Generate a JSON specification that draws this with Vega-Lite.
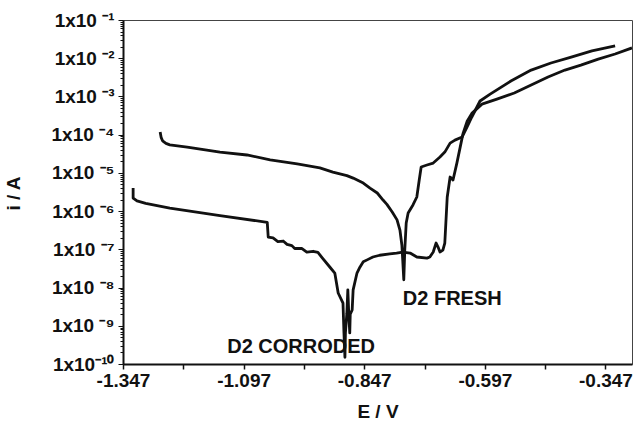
{
  "$schema": "https://vega.github.io/schema/vega-lite/v6.json",
  "autosize": {"type": "none"},
  "padding": {"left": 123, "top": 20, "right": 3, "bottom": 68},
  "width": 509,
  "height": 344,
  "background": "white",
  "config": {
    "view": {"stroke": "#444", "strokeWidth": 1},
    "font": "Liberation Sans"
  },
  "datasets": {
    "curves": [
      {"s": "fresh", "i": 1, "E": -1.270, "I": 1.17e-4},
      {"s": "fresh", "i": 2, "E": -1.268, "I": 8.5e-5},
      {"s": "fresh", "i": 3, "E": -1.265, "I": 6.9e-5},
      {"s": "fresh", "i": 4, "E": -1.258, "I": 5.9e-5},
      {"s": "fresh", "i": 5, "E": -1.250, "I": 5.4e-5},
      {"s": "fresh", "i": 6, "E": -1.214, "I": 4.75e-5},
      {"s": "fresh", "i": 7, "E": -1.146, "I": 3.5e-5},
      {"s": "fresh", "i": 8, "E": -1.090, "I": 2.94e-5},
      {"s": "fresh", "i": 9, "E": -1.042, "I": 2.2e-5},
      {"s": "fresh", "i": 10, "E": -0.986, "I": 1.71e-5},
      {"s": "fresh", "i": 11, "E": -0.939, "I": 1.35e-5},
      {"s": "fresh", "i": 12, "E": -0.912, "I": 1.05e-5},
      {"s": "fresh", "i": 13, "E": -0.883, "I": 8.5e-6},
      {"s": "fresh", "i": 14, "E": -0.870, "I": 7.3e-6},
      {"s": "fresh", "i": 15, "E": -0.849, "I": 5.4e-6},
      {"s": "fresh", "i": 16, "E": -0.835, "I": 4.0e-6},
      {"s": "fresh", "i": 17, "E": -0.820, "I": 2.98e-6},
      {"s": "fresh", "i": 18, "E": -0.808, "I": 1.95e-6},
      {"s": "fresh", "i": 19, "E": -0.800, "I": 1.5e-6},
      {"s": "fresh", "i": 20, "E": -0.789, "I": 9.5e-7},
      {"s": "fresh", "i": 21, "E": -0.779, "I": 5.9e-7},
      {"s": "fresh", "i": 22, "E": -0.773, "I": 3.2e-7},
      {"s": "fresh", "i": 23, "E": -0.769, "I": 1.3e-7},
      {"s": "fresh", "i": 24, "E": -0.767, "I": 4.7e-8},
      {"s": "fresh", "i": 25, "E": -0.765, "I": 1.6e-8},
      {"s": "fresh", "i": 26, "E": -0.763, "I": 9.5e-8},
      {"s": "fresh", "i": 27, "E": -0.760, "I": 4.9e-7},
      {"s": "fresh", "i": 28, "E": -0.756, "I": 8.9e-7},
      {"s": "fresh", "i": 29, "E": -0.746, "I": 1.45e-6},
      {"s": "fresh", "i": 30, "E": -0.738, "I": 2.34e-6},
      {"s": "fresh", "i": 31, "E": -0.733, "I": 6.5e-6},
      {"s": "fresh", "i": 32, "E": -0.729, "I": 1.43e-5},
      {"s": "fresh", "i": 33, "E": -0.717, "I": 1.61e-5},
      {"s": "fresh", "i": 34, "E": -0.704, "I": 1.81e-5},
      {"s": "fresh", "i": 35, "E": -0.690, "I": 2.6e-5},
      {"s": "fresh", "i": 36, "E": -0.680, "I": 3.5e-5},
      {"s": "fresh", "i": 37, "E": -0.669, "I": 6.0e-5},
      {"s": "fresh", "i": 38, "E": -0.659, "I": 7.2e-5},
      {"s": "fresh", "i": 39, "E": -0.644, "I": 8.7e-5},
      {"s": "fresh", "i": 40, "E": -0.634, "I": 1.58e-4},
      {"s": "fresh", "i": 41, "E": -0.624, "I": 2.9e-4},
      {"s": "fresh", "i": 42, "E": -0.607, "I": 7.6e-4},
      {"s": "fresh", "i": 43, "E": -0.586, "I": 1.15e-3},
      {"s": "fresh", "i": 44, "E": -0.543, "I": 2.54e-3},
      {"s": "fresh", "i": 45, "E": -0.501, "I": 4.9e-3},
      {"s": "fresh", "i": 46, "E": -0.460, "I": 7.5e-3},
      {"s": "fresh", "i": 47, "E": -0.418, "I": 1.07e-2},
      {"s": "fresh", "i": 48, "E": -0.375, "I": 1.55e-2},
      {"s": "fresh", "i": 49, "E": -0.327, "I": 2.1e-2},
      {"s": "corroded", "i": 1, "E": -1.326, "I": 4.0e-6},
      {"s": "corroded", "i": 2, "E": -1.326, "I": 2.2e-6},
      {"s": "corroded", "i": 3, "E": -1.318, "I": 1.85e-6},
      {"s": "corroded", "i": 4, "E": -1.300, "I": 1.6e-6},
      {"s": "corroded", "i": 5, "E": -1.250, "I": 1.2e-6},
      {"s": "corroded", "i": 6, "E": -1.146, "I": 7.6e-7},
      {"s": "corroded", "i": 7, "E": -1.048, "I": 5.1e-7},
      {"s": "corroded", "i": 8, "E": -1.046, "I": 2.1e-7},
      {"s": "corroded", "i": 9, "E": -1.036, "I": 2.0e-7},
      {"s": "corroded", "i": 10, "E": -1.026, "I": 1.6e-7},
      {"s": "corroded", "i": 11, "E": -1.015, "I": 1.65e-7},
      {"s": "corroded", "i": 12, "E": -1.007, "I": 1.35e-7},
      {"s": "corroded", "i": 13, "E": -0.997, "I": 1.25e-7},
      {"s": "corroded", "i": 14, "E": -0.991, "I": 1.05e-7},
      {"s": "corroded", "i": 15, "E": -0.976, "I": 1.05e-7},
      {"s": "corroded", "i": 16, "E": -0.966, "I": 8.5e-8},
      {"s": "corroded", "i": 17, "E": -0.953, "I": 8.9e-8},
      {"s": "corroded", "i": 18, "E": -0.943, "I": 8.3e-8},
      {"s": "corroded", "i": 19, "E": -0.934, "I": 6.0e-8},
      {"s": "corroded", "i": 20, "E": -0.918, "I": 3.4e-8},
      {"s": "corroded", "i": 21, "E": -0.908, "I": 2.4e-8},
      {"s": "corroded", "i": 22, "E": -0.901, "I": 7.2e-9},
      {"s": "corroded", "i": 23, "E": -0.891, "I": 3.9e-9},
      {"s": "corroded", "i": 24, "E": -0.889, "I": 6.5e-10},
      {"s": "corroded", "i": 25, "E": -0.887, "I": 1.5e-10},
      {"s": "corroded", "i": 26, "E": -0.886, "I": 6.5e-10},
      {"s": "corroded", "i": 27, "E": -0.883, "I": 2.1e-9},
      {"s": "corroded", "i": 28, "E": -0.881, "I": 8.7e-9},
      {"s": "corroded", "i": 29, "E": -0.879, "I": 2.0e-9},
      {"s": "corroded", "i": 30, "E": -0.877, "I": 6.5e-10},
      {"s": "corroded", "i": 31, "E": -0.876, "I": 2.0e-9},
      {"s": "corroded", "i": 32, "E": -0.872, "I": 2.6e-9},
      {"s": "corroded", "i": 33, "E": -0.870, "I": 8.7e-9},
      {"s": "corroded", "i": 34, "E": -0.862, "I": 2.4e-8},
      {"s": "corroded", "i": 35, "E": -0.856, "I": 3.4e-8},
      {"s": "corroded", "i": 36, "E": -0.849, "I": 4.7e-8},
      {"s": "corroded", "i": 37, "E": -0.841, "I": 5.3e-8},
      {"s": "corroded", "i": 38, "E": -0.829, "I": 6.3e-8},
      {"s": "corroded", "i": 39, "E": -0.815, "I": 7.0e-8},
      {"s": "corroded", "i": 40, "E": -0.794, "I": 7.6e-8},
      {"s": "corroded", "i": 41, "E": -0.780, "I": 8.0e-8},
      {"s": "corroded", "i": 42, "E": -0.767, "I": 8.5e-8},
      {"s": "corroded", "i": 43, "E": -0.752, "I": 8.0e-8},
      {"s": "corroded", "i": 44, "E": -0.738, "I": 6.3e-8},
      {"s": "corroded", "i": 45, "E": -0.717, "I": 5.9e-8},
      {"s": "corroded", "i": 46, "E": -0.711, "I": 6.3e-8},
      {"s": "corroded", "i": 47, "E": -0.704, "I": 8.5e-8},
      {"s": "corroded", "i": 48, "E": -0.698, "I": 1.46e-7},
      {"s": "corroded", "i": 49, "E": -0.694, "I": 1.15e-7},
      {"s": "corroded", "i": 50, "E": -0.690, "I": 8.5e-8},
      {"s": "corroded", "i": 51, "E": -0.684, "I": 9.5e-8},
      {"s": "corroded", "i": 52, "E": -0.680, "I": 1.46e-7},
      {"s": "corroded", "i": 53, "E": -0.675, "I": 2.3e-6},
      {"s": "corroded", "i": 54, "E": -0.669, "I": 7.8e-6},
      {"s": "corroded", "i": 55, "E": -0.663, "I": 6.5e-6},
      {"s": "corroded", "i": 56, "E": -0.655, "I": 1.8e-5},
      {"s": "corroded", "i": 57, "E": -0.648, "I": 4.8e-5},
      {"s": "corroded", "i": 58, "E": -0.642, "I": 1.1e-4},
      {"s": "corroded", "i": 59, "E": -0.634, "I": 2.2e-4},
      {"s": "corroded", "i": 60, "E": -0.624, "I": 3.6e-4},
      {"s": "corroded", "i": 61, "E": -0.603, "I": 6.3e-4},
      {"s": "corroded", "i": 62, "E": -0.572, "I": 8.5e-4},
      {"s": "corroded", "i": 63, "E": -0.536, "I": 1.23e-3},
      {"s": "corroded", "i": 64, "E": -0.501, "I": 2.0e-3},
      {"s": "corroded", "i": 65, "E": -0.466, "I": 3.24e-3},
      {"s": "corroded", "i": 66, "E": -0.431, "I": 4.9e-3},
      {"s": "corroded", "i": 67, "E": -0.398, "I": 6.6e-3},
      {"s": "corroded", "i": 68, "E": -0.362, "I": 9.5e-3},
      {"s": "corroded", "i": 69, "E": -0.327, "I": 1.29e-2},
      {"s": "corroded", "i": 70, "E": -0.292, "I": 1.86e-2}
    ],
    "labels": [
      {"t": "D2 FRESH", "E": -0.767, "I": 5.0e-9},
      {"t": "D2 CORRODED", "E": -1.131, "I": 2.8e-10}
    ]
  },
  "layer": [
    {
      "data": {"name": "curves"},
      "mark": {"type": "line", "color": "#111", "strokeWidth": 2.8, "strokeJoin": "round", "clip": true},
      "encoding": {
        "x": {
          "field": "E", "type": "quantitative",
          "scale": {"domain": [-1.347, -0.292], "nice": false, "zero": false},
          "axis": {
            "title": "E / V",
            "values": [-1.347, -1.222, -1.097, -0.972, -0.847, -0.722, -0.597, -0.472, -0.347],
            "labelExpr": "(round((datum.value + 1.347) * 8) % 2 == 0) ? toString(datum.value) : ''",
            "grid": false,
            "domainColor": "#111", "domainWidth": 2,
            "tickColor": "#111", "tickWidth": 1.5, "tickSize": 5,
            "labelFont": "Liberation Sans", "labelFontSize": 19, "labelFontWeight": "bold", "labelColor": "#111",
            "labelPadding": 2, "labelFlush": false, "labelOverlap": false,
            "titleFont": "Liberation Sans", "titleFontSize": 19, "titleFontWeight": "bold", "titleColor": "#111",
            "titleY": 47, "titleBaseline": "middle"
          }
        },
        "y": {
          "field": "I", "type": "quantitative",
          "scale": {"type": "log", "domain": [1e-10, 1e-1], "nice": false},
          "axis": {
            "title": "i / A",
            "values": [1e-10,2e-10,3e-10,4e-10,5e-10,6e-10,7e-10,8e-10,9e-10,
                       1e-9,2e-9,3e-9,4e-9,5e-9,6e-9,7e-9,8e-9,9e-9,
                       1e-8,2e-8,3e-8,4e-8,5e-8,6e-8,7e-8,8e-8,9e-8,
                       1e-7,2e-7,3e-7,4e-7,5e-7,6e-7,7e-7,8e-7,9e-7,
                       1e-6,2e-6,3e-6,4e-6,5e-6,6e-6,7e-6,8e-6,9e-6,
                       1e-5,2e-5,3e-5,4e-5,5e-5,6e-5,7e-5,8e-5,9e-5,
                       1e-4,2e-4,3e-4,4e-4,5e-4,6e-4,7e-4,8e-4,9e-4,
                       1e-3,2e-3,3e-3,4e-3,5e-3,6e-3,7e-3,8e-3,9e-3,
                       1e-2,2e-2,3e-2,4e-2,5e-2,6e-2,7e-2,8e-2,9e-2,1e-1],
            "labelExpr": "abs(log(datum.value)/LN10 - round(log(datum.value)/LN10)) < 0.01 ? '1x10' + ['⁻¹⁰',' ⁻⁹',' ⁻⁸',' ⁻⁷',' ⁻⁶',' ⁻⁵',' ⁻⁴',' ⁻³',' ⁻²',' ⁻¹'][round(log(datum.value)/LN10)+10] : ''",
            "grid": false,
            "domainColor": "#111", "domainWidth": 2,
            "tickColor": "#111", "tickWidth": 1,
            "tickSize": {"condition": {"test": "abs(log(datum.value)/LN10 - round(log(datum.value)/LN10)) < 0.01", "value": 5}, "value": 3},
            "labelFont": "Liberation Sans", "labelFontSize": 19, "labelFontWeight": "bold", "labelColor": "#111",
            "labelPadding": 4, "labelOverlap": false, "labelFlush": false,
            "titleFont": "Liberation Sans", "titleFontSize": 19, "titleFontWeight": "bold", "titleColor": "#111",
            "titleX": -110, "titleY": 173, "titleAngle": -90, "titleBaseline": "middle", "titleAlign": "center"
          }
        },
        "detail": {"field": "s"},
        "order": {"field": "i", "type": "quantitative"}
      }
    },
    {
      "data": {"name": "labels"},
      "mark": {"type": "text", "align": "left", "baseline": "middle", "font": "Liberation Sans", "fontSize": 20, "fontWeight": "bold", "color": "#111"},
      "encoding": {
        "x": {"field": "E", "type": "quantitative"},
        "y": {"field": "I", "type": "quantitative"},
        "text": {"field": "t"}
      }
    }
  ]
}
